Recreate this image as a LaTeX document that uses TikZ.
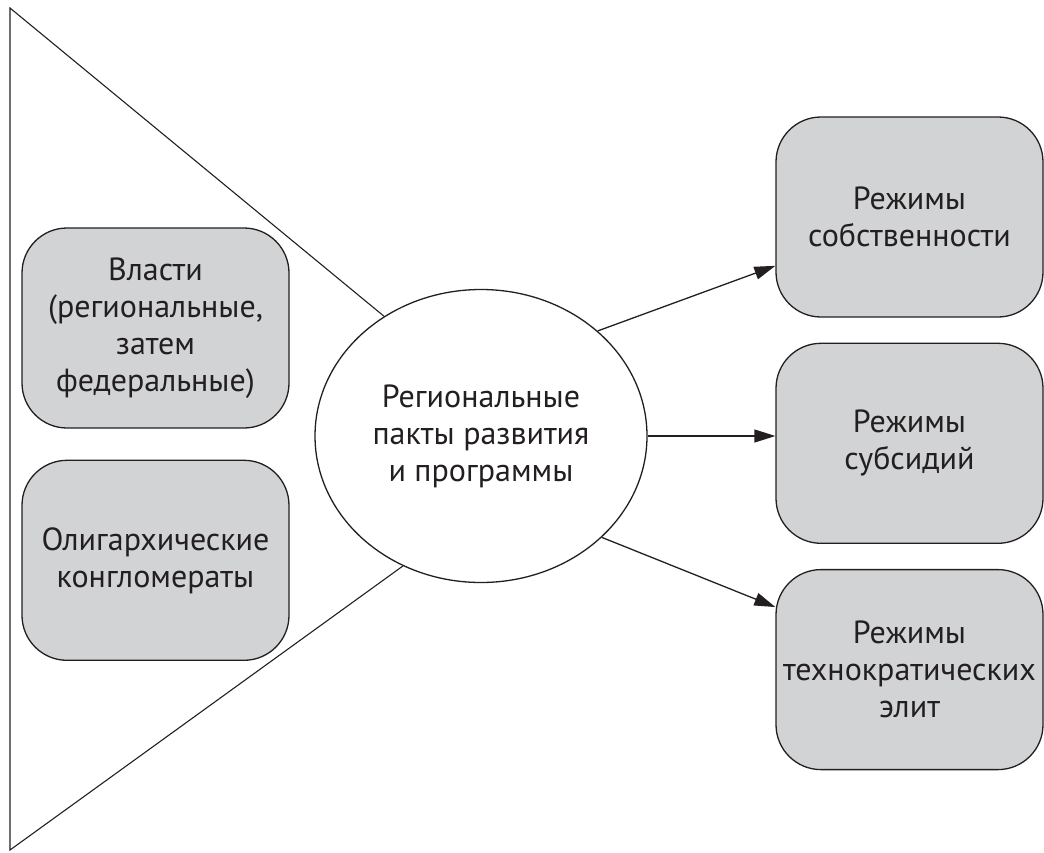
\documentclass[tikz,border=0pt]{standalone}
\usepackage{fontspec}
\setmainfont{PT Sans}
\usepackage{tikz}
\usetikzlibrary{arrows.meta}
\usetikzlibrary{positioning}
\usetikzlibrary{shapes.geometric}
\definecolor{ink}{HTML}{231F20}
\definecolor{boxgray}{HTML}{D1D3D4}
\begin{document}
\begin{tikzpicture}[x=1pt,y=-1pt,node distance=25pt,>={Triangle[length=21pt,width=13pt]},
    every node/.style={text=ink,font=\fontsize{32}{37}\selectfont,align=center},
    regime/.style={draw=ink,fill=boxgray,line width=1.3pt,rounded corners=45pt,
      minimum width=267pt,minimum height=200pt,inner sep=0pt},
    pact/.style={ellipse,draw=ink,line width=1.3pt,minimum width=332pt,
      minimum height=293pt,inner sep=0pt},
    conn/.style={->,draw=ink,line width=1.3pt}]
    \useasboundingbox (0,0) rectangle (1044,852);
    % centre
    \node[pact]   (c)   at (481,436) {Региональные\\пакты развития\\и программы};
    % actors on the left
    \node[regime] (l_1) at (155.5,328) {Власти\\(региональные,\\затем\\федеральные)};
    \node[regime] (l_2) [below=31pt of l_1] {Олигархические\\конгломераты};
    % regimes on the right
    \node[regime] (r_1) at (909.5,217) {Режимы\\собственности};
    \node[regime] (r_2) [below=of r_1] {Режимы\\субсидий};
    \node[regime] (r_3) [below=of r_2] {Режимы\\технократических\\элит};
    % funnel
    \coordinate (t_top) at (10,8);
    \coordinate (t_bot) at (10,850);
    \draw[ink,line width=1.1pt] (c.129) -- (t_top) -- (t_bot) -- (c.239);
    \path (c.42)   edge[conn] (r_1.200)
          (c.east) edge[conn] (c.east -| r_2.west)
          (c.320)  edge[conn] (r_3.155);
  \end{tikzpicture}
\end{document}
